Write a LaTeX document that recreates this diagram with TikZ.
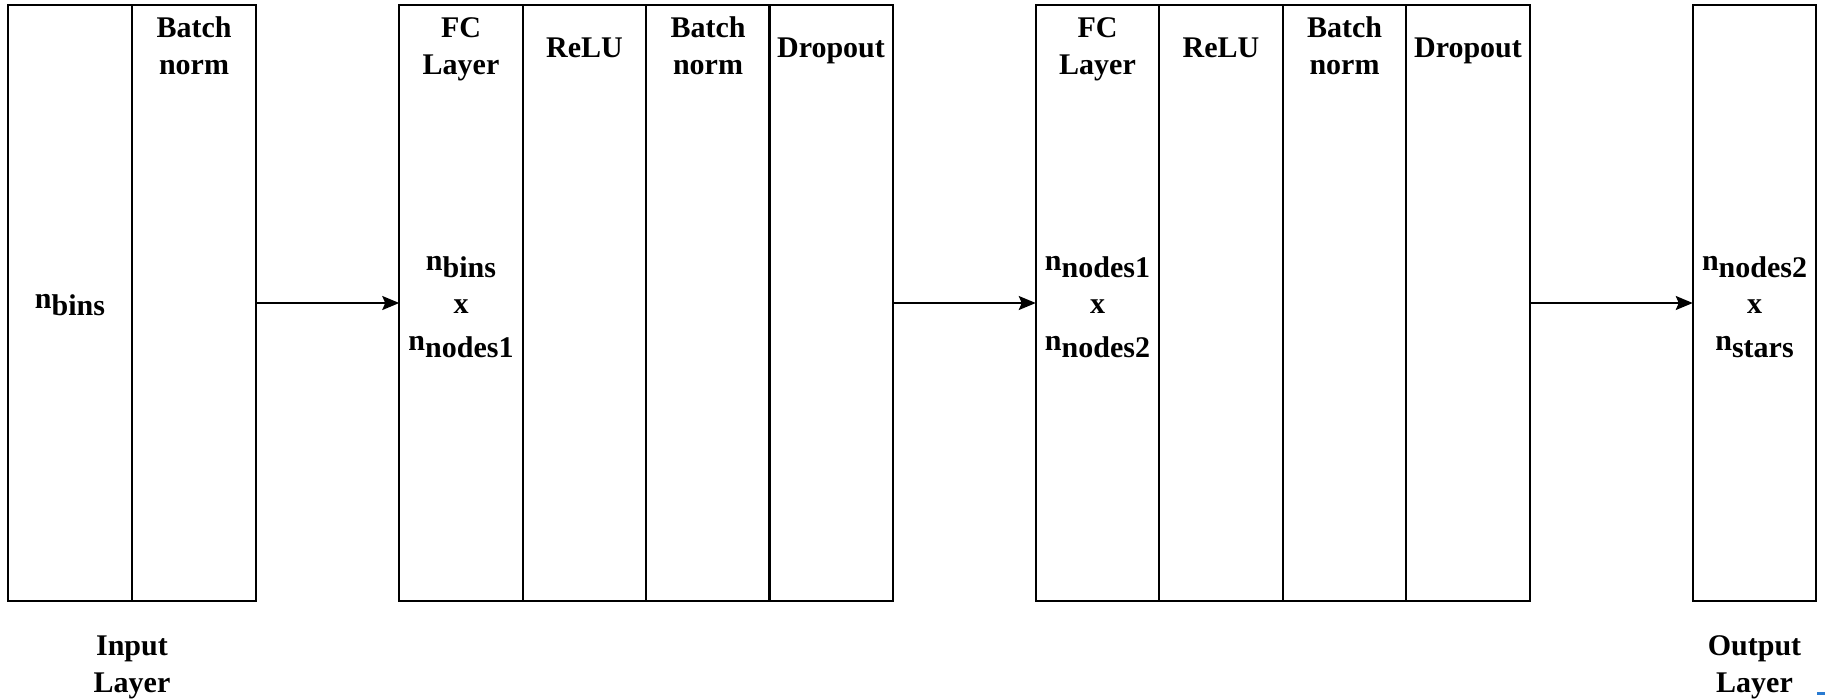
\documentclass[tikz,border=0pt]{standalone}
\usepackage{fontspec}
\setmainfont{Liberation Serif}
\usetikzlibrary{arrows.meta}
\newcommand\lowsub[1]{\raisebox{-7pt}{#1}}
\definecolor{markblue}{HTML}{2A7BD1}
\tikzset{
  cell/.style={draw=black, line width=1.8pt, minimum width=123.5pt, minimum height=596pt,
    inner sep=0pt, outer sep=0pt},
  lbl/.style={font=\bfseries\fontsize{30pt}{37pt}\selectfont, align=center, anchor=base,
    inner sep=0pt},
  flow/.style={line width=1.8pt, -{Stealth[length=17pt,width=14pt,inset=3pt]}}
}
\begin{document}
\begin{tikzpicture}[x=1pt,y=-1pt]
\useasboundingbox (0,0) rectangle (1825,699);

% input block
\node[cell] (in1) at (70,303) {};
\node[cell] (in2) at (194,303) {};
% first hidden block
\node[cell] (fa) at (461,303) {};
\node[cell] (fb) at (584.5,303) {};
\node[cell] (fc) at (708,303) {};
\node[cell] (fd) at (831,303) {};
% second hidden block
\node[cell] (sa) at (1097.5,303) {};
\node[cell] (sb) at (1221,303) {};
\node[cell] (sc) at (1344.5,303) {};
\node[cell] (sd) at (1468,303) {};
% output block
\node[cell] (out) at (1754.5,303) {};

% headings (base anchor sits on the last line)
\node[lbl] (t1) at (194,74) {Batch\\norm};
\node[lbl] (t2) at (461,74) {FC\\Layer};
\node[lbl] (t3) at (584.5,57) {ReLU};
\node[lbl] (t4) at (708,74) {Batch\\norm};
\node[lbl] (t5) at (831,57) {Dropout};
\node[lbl] (t6) at (1097.5,74) {FC\\Layer};
\node[lbl] (t7) at (1221,57) {ReLU};
\node[lbl] (t8) at (1344.5,74) {Batch\\norm};
\node[lbl] (t9) at (1468,57) {Dropout};

% dimensions
\node[lbl] (d0) at (70,308) {n\lowsub{bins}};
\node[lbl] (d1) at (461,350) {n\lowsub{bins}\\[6pt]x\\n\lowsub{nodes1}};
\node[lbl] (d2) at (1097.5,350) {n\lowsub{nodes1}\\[6pt]x\\n\lowsub{nodes2}};
\node[lbl] (d3) at (1754.5,350) {n\lowsub{nodes2}\\[6pt]x\\n\lowsub{stars}};

% captions
\node[lbl] (c1) at (132,692) {Input\\Layer};
\node[lbl] (c2) at (1754.5,692) {Output\\Layer};

% connections
\draw[flow] (in2.east) -- (fa.west);
\draw[flow] (fd.east) -- (sa.west);
\draw[flow] (sd.east) -- (out.west);

% corner mark
\fill[markblue] (1817,691.5) rectangle (1825,695);
\end{tikzpicture}
\end{document}
